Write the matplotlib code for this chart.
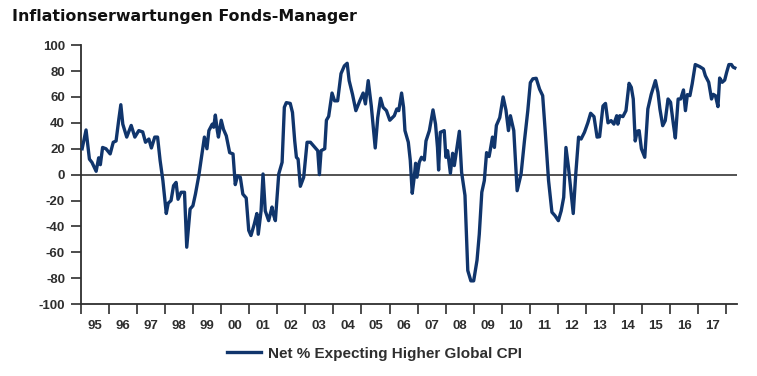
import numpy as np
import matplotlib.pyplot as plt
from matplotlib.ticker import FixedLocator, NullFormatter

plt.rcParams['axes.unicode_minus'] = False

# ---------------------------------------------------------------------------
# Net % of fund managers expecting higher global CPI.
# Years are decimal years, values in net %.
# ---------------------------------------------------------------------------
years = [
    1995.04, 1995.18, 1995.30, 1995.39, 1995.54, 1995.63, 1995.69, 1995.77, 1995.89,
    1996.04, 1996.15, 1996.25, 1996.35, 1996.42, 1996.49, 1996.63, 1996.79, 1996.92,
    1997.06, 1997.20, 1997.30, 1997.42, 1997.51, 1997.63, 1997.73, 1997.82, 1997.92,
    1998.04, 1998.11, 1998.21, 1998.30, 1998.39, 1998.46, 1998.57, 1998.69, 1998.77,
    1998.89, 1998.99, 1999.08, 1999.20, 1999.32, 1999.40, 1999.49, 1999.56, 1999.68,
    1999.73, 1999.79, 1999.86, 1999.90, 2000.00, 2000.08, 2000.18, 2000.30, 2000.42,
    2000.50, 2000.58, 2000.68, 2000.77, 2000.89, 2000.98, 2001.06, 2001.18, 2001.27,
    2001.32, 2001.42, 2001.49, 2001.57, 2001.69, 2001.81, 2001.85, 2001.93, 2002.05,
    2002.17, 2002.25, 2002.32, 2002.46, 2002.54, 2002.62, 2002.68, 2002.74, 2002.82,
    2002.94, 2003.06, 2003.18, 2003.30, 2003.44, 2003.50, 2003.56, 2003.69, 2003.75,
    2003.83, 2003.95, 2004.04, 2004.15, 2004.27, 2004.39, 2004.49, 2004.56, 2004.68,
    2004.80, 2004.94, 2005.06, 2005.14, 2005.24, 2005.35, 2005.49, 2005.58, 2005.68,
    2005.77, 2005.89, 2006.01, 2006.17, 2006.26, 2006.33, 2006.43, 2006.50, 2006.55,
    2006.67, 2006.74, 2006.81, 2006.88, 2006.93, 2006.98, 2007.06, 2007.14, 2007.24,
    2007.30, 2007.42, 2007.55, 2007.64, 2007.71, 2007.75, 2007.81, 2007.95, 2008.01,
    2008.07, 2008.17, 2008.25, 2008.31, 2008.40, 2008.49, 2008.57, 2008.69, 2008.79,
    2008.90, 2009.00, 2009.12, 2009.20, 2009.29, 2009.38, 2009.46, 2009.55, 2009.60,
    2009.67, 2009.74, 2009.81, 2009.93, 2010.05, 2010.15, 2010.24, 2010.31, 2010.43,
    2010.55, 2010.69, 2010.81, 2010.93, 2011.02, 2011.11, 2011.23, 2011.35, 2011.46,
    2011.55, 2011.67, 2011.79, 2011.90, 2012.02, 2012.12, 2012.21, 2012.29, 2012.38,
    2012.48, 2012.55, 2012.64, 2012.74, 2012.83, 2012.95, 2013.07, 2013.17, 2013.29,
    2013.40, 2013.49, 2013.61, 2013.70, 2013.79, 2013.90, 2014.00, 2014.10, 2014.14,
    2014.21, 2014.32, 2014.43, 2014.54, 2014.62, 2014.69, 2014.76, 2014.83, 2014.90,
    2014.98, 2015.10, 2015.21, 2015.33, 2015.48, 2015.57, 2015.64, 2015.74, 2015.83,
    2015.93, 2016.02, 2016.12, 2016.19, 2016.29, 2016.38, 2016.48, 2016.55, 2016.62,
    2016.71, 2016.79, 2016.90, 2017.06, 2017.19, 2017.26, 2017.38, 2017.48, 2017.54,
    2017.62, 2017.71, 2017.77, 2017.86, 2017.95, 2018.02, 2018.10, 2018.19, 2018.25,
    2018.31,
]
net_pct = [
    20, 34.5, 12, 9.5, 2.6, 13, 7.7, 21, 20,
    16, 25, 26, 43, 54, 39, 29, 38, 29,
    34, 33, 25, 27.5, 20.6, 29, 29, 11, -4.6,
    -30, -22, -20, -8.5, -6, -19, -13.6, -13.6, -56,
    -26.5, -24, -15, -0.8, 17, 29, 20, 34, 39,
    36.6, 46, 34, 29, 42, 35, 30, 17, 16,
    -7.7, -1, -2, -15, -18, -43, -47, -38, -30,
    -46, -28, 0.5, -28, -35.5, -25, -30, -35.5, 0.5,
    9.5, 52, 55.6, 55, 48, 26, 13.4, 12, -9,
    -2, 25, 25, 22, 18.5, 0, 18.5, 20, 42,
    45, 63, 57, 57, 78, 84, 86, 72.6, 62,
    49.4, 57, 63, 54.6, 72.6, 53, 20.6, 44, 59,
    52, 49.4, 42, 45.5, 50.7, 49.4, 63, 52, 34,
    25, 11, -14.4, -2, 8.8, -2, 9.5, 13.4, 11.3,
    26, 34, 50, 39, 21, 3.6, 32.7, 34, 13.4,
    18.5, 1, 16.5, 7, 20, 33.5, 1.8, -16, -74,
    -82, -82, -66, -46, -13.6, -4.6, 17, 14, 20,
    29, 21, 38, 44, 60, 50, 34, 45.5, 34,
    -12.4, 0.5, 26, 49.4, 71, 74, 74.4, 66, 61,
    34, -4.6, -29, -31.7, -35.5, -28, -17.5, 21, 5.7,
    -15, -30, 0.5, 29, 27.5, 32.7, 40, 47.4, 44.8,
    29, 29.3, 53, 55, 40, 41.7, 39, 45.5, 39,
    45.5, 44.8, 49.4, 70.5, 67.4, 58.4, 26, 33.5, 34,
    20, 13.4, 50.7, 62, 72.6, 63.6, 50.7, 37.8, 41.7,
    58.4, 55.9, 39, 28.3, 58.4, 58.4, 65.4, 49.4, 61.8,
    61, 70, 85, 83.4, 81.6, 76.4, 71.3, 58.4, 62,
    61, 52.5, 74.6, 71.3, 73, 79, 85, 85, 83,
    82.4,
]

year_labels = ['95', '96', '97', '98', '99', '00', '01', '02', '03', '04', '05', '06',
               '07', '08', '09', '10', '11', '12', '13', '14', '15', '16', '17']
y_ticks = list(range(-100, 101, 20))

NAVY = '#10356c'
DARK = '#2e2e2e'

fig = plt.figure(figsize=(7.57, 3.76), dpi=100)
ax = fig.add_axes([0.107, 0.191, 0.867, 0.689])

ax.plot(years, net_pct, color=NAVY, lw=2.4, solid_joinstyle='round',
        label='Net % Expecting Higher Global CPI', zorder=3)
ax.axhline(0, color='#444444', lw=1.3, zorder=2)

ax.set_xlim(1995.0, 2018.4)
ax.set_ylim(-100, 100)

# year boundaries as ticks, labels centred mid-year
starts = np.arange(1995, 2019)
ax.xaxis.set_major_locator(FixedLocator(starts))
ax.xaxis.set_major_formatter(NullFormatter())
ax.xaxis.set_minor_locator(FixedLocator(starts[:-1] + 0.5))
ax.set_xticklabels(year_labels, minor=True)
ax.tick_params(axis='x', which='major', direction='out', length=7.5, width=1.2, color=DARK)
ax.tick_params(axis='x', which='minor', length=0, pad=11.5)

ax.set_yticks(y_ticks)
ax.tick_params(axis='y', direction='out', length=7.5, width=1.2, color=DARK, pad=4)

for lab in ax.get_xticklabels(minor=True) + ax.get_yticklabels():
    lab.set_fontfamily('Liberation Sans')
    lab.set_fontweight('bold')
    lab.set_fontsize(9.5)
    lab.set_color(DARK)

for side in ['top', 'right']:
    ax.spines[side].set_visible(False)
for side in ['left', 'bottom']:
    ax.spines[side].set_color(DARK)
    ax.spines[side].set_linewidth(1.3)

fig.text(0.016, 0.957, 'Inflationserwartungen Fonds-Manager', fontsize=11.4,
         fontweight='bold', family='DejaVu Sans', color='#111111', va='center')

leg = fig.legend(loc='center', bbox_to_anchor=(0.495, 0.059), frameon=False,
                 handlelength=2.2, handletextpad=0.5,
                 prop={'family': 'Liberation Sans', 'weight': 'bold', 'size': 11})
for t in leg.get_texts():
    t.set_color(DARK)

fig.savefig('out.png', dpi=100)
